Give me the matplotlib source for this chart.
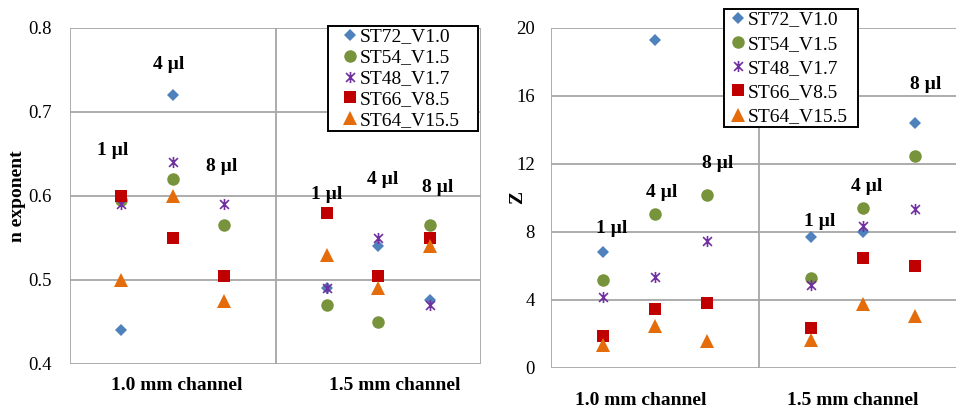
import numpy as np
import matplotlib
matplotlib.use("Agg")
import matplotlib.pyplot as plt
from matplotlib.path import Path


# =========================
# DATA
# =========================

channels = ["1.0 mm channel", "1.5 mm channel"]
volumes = ["1 µl", "4 µl", "8 µl"]
series = ["ST72_V1.0", "ST54_V1.5", "ST48_V1.7", "ST66_V8.5", "ST64_V15.5"]

# order: 1.0 mm (1, 4, 8 µl), 1.5 mm (1, 4, 8 µl)
n_st72 = [0.44, 0.72, np.nan, 0.49, 0.54, 0.476]
n_st54 = [0.595, 0.62, 0.565, 0.47, 0.45, 0.565]
n_st48 = [0.59, 0.64, 0.59, 0.49, 0.55, 0.47]
n_st66 = [0.60, 0.55, 0.505, 0.58, 0.505, 0.55]
n_st64 = [0.50, 0.60, 0.475, 0.53, 0.49, 0.54]

z_st72 = [6.8, 19.3, np.nan, 7.7, 8.0, 14.4]
z_st54 = [5.15, 9.05, 10.2, 5.3, 9.4, 12.5]
z_st48 = [4.2, 5.35, 7.5, 4.9, 8.35, 9.35]
z_st66 = [1.9, 3.5, 3.8, 2.35, 6.45, 6.0]
z_st64 = [1.35, 2.5, 1.6, 1.65, 3.75, 3.05]

n_ticks = [0.4, 0.5, 0.6, 0.7, 0.8]
z_ticks = [0, 4, 8, 12, 16, 20]


# =========================
# STYLE
# =========================

plt.rcParams["font.family"] = ["Liberation Serif", "DejaVu Serif"]

star = Path(
    [(-1, -1), (1, 1), (-1, 1), (1, -1), (0, -1.25), (0, 1.25)],
    [Path.MOVETO, Path.LINETO, Path.MOVETO, Path.LINETO, Path.MOVETO, Path.LINETO],
)

styles = [
    dict(marker="D", color="#4F81BD", ms=6.2),
    dict(marker="o", color="#77933C", ms=9),
    dict(marker=star, color="#7030A0", ms=8, mew=1.2),
    dict(marker="s", color="#C00000", ms=9),
    dict(marker="^", color="#E46C0A", ms=9.5),
]

grid_color = "#A6A6A6"
label_size = 14

x_pos = [c + (j + 1) / 4 for c in range(len(channels)) for j in range(len(volumes))]


def draw_panel(ax, data, ticks, ylabel, vol_labels, chan_x, chan_y, pad):
    for name, vals, st in zip(series, data, styles):
        kw = dict(linestyle="none", marker=st["marker"], markersize=st["ms"],
                  label=name, clip_on=False)
        if st["marker"] is star:
            kw.update(color=st["color"], markeredgewidth=st["mew"])
        else:
            kw.update(color=st["color"], markeredgewidth=0)
        ax.plot(x_pos, vals, **kw)

    ax.set_xlim(0, 2)
    ax.set_ylim(ticks[0], ticks[-1])
    ax.set_yticks(ticks)
    ax.set_xticks([])
    ax.tick_params(axis="y", length=0, pad=pad, labelsize=13.5)
    for y in ticks:
        ax.axhline(y, color=grid_color, lw=1.3, zorder=0)
    for x in [0, 1, 2]:
        ax.axvline(x, color=grid_color, lw=1.3, zorder=0)
    for sp in ax.spines.values():
        sp.set_visible(False)

    for lab, (x, y) in zip(volumes * 2, vol_labels):
        ax.text(x, y, lab, ha="center", va="center", fontsize=label_size,
                fontweight="bold")

    for lab, x in zip(channels, chan_x):
        ax.text(x, chan_y, lab, ha="center", va="center", fontsize=label_size,
                fontweight="bold", transform=ax.get_xaxis_transform())

    ax.set_ylabel(ylabel, fontsize=label_size, fontweight="bold")


fig = plt.figure(figsize=(9.56, 4.08), dpi=100)

ax1 = fig.add_axes([70 / 956, 44 / 408, 411 / 956, 336 / 408])
ax2 = fig.add_axes([551 / 956, 40 / 408, 416 / 956, 340 / 408])

draw_panel(
    ax1,
    [n_st72, n_st54, n_st48, n_st66, n_st64],
    n_ticks,
    "n exponent",
    [(0.21, 0.654), (0.48, 0.756), (0.74, 0.635),
     (1.25, 0.602), (1.52, 0.62), (1.79, 0.61)],
    [0.52, 1.58],
    -0.065,
    13,
)
ax1.yaxis.set_label_coords(-0.108, 0.5)
ax1.set_yticklabels(["0.4", "0.5", "0.6", "0.7", "0.8"])

draw_panel(
    ax2,
    [z_st72, z_st54, z_st48, z_st66, z_st64],
    z_ticks,
    "Z",
    [(0.29, 8.23), (0.53, 10.35), (0.80, 12.04),
     (1.29, 8.6), (1.52, 10.7), (1.80, 16.66)],
    [0.43, 1.45],
    -0.097,
    11.5,
)
ax2.yaxis.set_label_coords(-0.06, 0.5)

fs = 14 * 100 / 72  # legend font size in pixels
leg_kw = dict(loc="upper left", fontsize=14, frameon=True, fancybox=False,
              edgecolor="black", borderpad=0.1, borderaxespad=0, mode="expand",
              bbox_transform=fig.transFigure)
leg1 = ax1.legend(bbox_to_anchor=(328 / 956, 1 - 131 / 408, 150 / 956, 105 / 408),
                  labelspacing=0.17, handlelength=40 / fs,
                  handletextpad=-10 / fs, **leg_kw)
leg2 = ax2.legend(bbox_to_anchor=(724 / 956, 1 - 133 / 408, 134 / 956, 124 / 408),
                  labelspacing=0.34, handlelength=24 / fs,
                  handletextpad=-2 / fs, **leg_kw)
for leg in (leg1, leg2):
    leg.get_frame().set_linewidth(1.4)
    leg.get_frame().set_alpha(1)
    leg.set_zorder(10)

fig.savefig("out.png", dpi=100)
plt.close()
